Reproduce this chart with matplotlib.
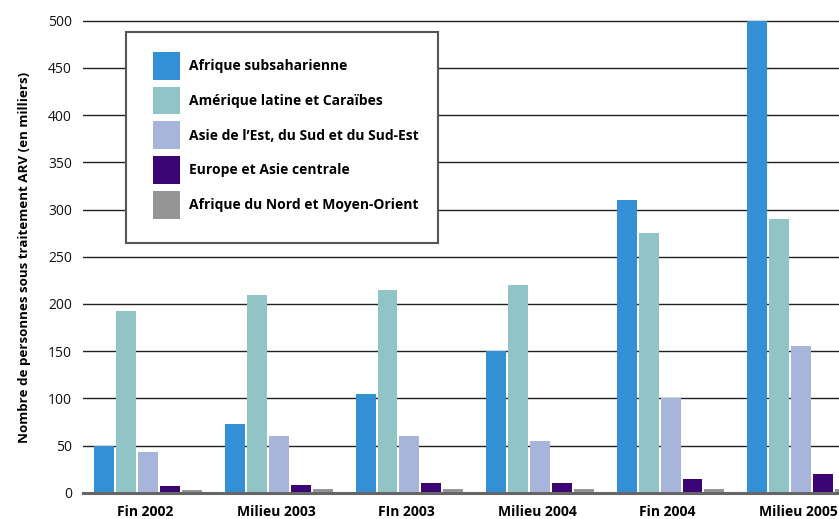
import matplotlib
matplotlib.use("Agg")
import matplotlib.pyplot as plt
import numpy as np
from matplotlib.patches import Rectangle

plt.rcParams['font.family'] = ['Open Sans', 'DejaVu Sans']

periods = ["Fin 2002", "Milieu 2003", "FIn 2003", "Milieu 2004", "Fin 2004", "Milieu 2005"]
regions = ["Afrique subsaharienne",
           "Amérique latine et Caraïbes",
           "Asie de l’Est, du Sud et du Sud-Est",
           "Europe et Asie centrale",
           "Afrique du Nord et Moyen-Orient"]
afrique_sub = [50, 73, 105, 150, 310, 500]
amerique_lat = [192, 209, 215, 220, 275, 290]
asie = [43, 60, 60, 55, 100, 155]
europe_asie_c = [7, 8, 10, 10, 15, 20]
afrique_nord = [3, 4, 4, 4, 4, 4]
series = [afrique_sub, amerique_lat, asie, europe_asie_c, afrique_nord]
colors = ["#3390d4", "#90c4c6", "#a8b5db", "#3b0575", "#959595"]

fig = plt.figure(figsize=(8.39, 5.19), dpi=100)
ax = fig.add_axes([83 / 839, 26.3 / 519, 1 - 83 / 839, 505 * 0.944 / 519])

x = np.arange(len(periods))
step = 0.168
width = 0.153
bars = []
for i, (vals, col, lab) in enumerate(zip(series, colors, regions)):
    b = ax.bar(x + (i - 2) * step, vals, width, color=col, label=lab, zorder=2)
    bars.append(b)

ax.set_xlim(-0.5, 5.29)
ax.set_ylim(0, 505)
ax.set_yticks(np.arange(0, 501, 50))
ax.set_axisbelow(True)
ax.yaxis.grid(True, color="#222222", linewidth=1.0)
ax.axhline(0, color="#666666", linewidth=2.2, zorder=3, clip_on=False)
for s in ax.spines.values():
    s.set_visible(False)
ax.tick_params(axis='y', length=0, pad=8, labelsize=10, labelcolor="#111111")
ax.tick_params(axis='x', length=0, pad=9)
ax.set_xticks(x - 0.022)
ax.set_xticklabels(periods, fontsize=10, fontweight='bold')

fig.text(25 / 839, 1 - 257 / 519, "Nombre de personnes sous traitement ARV (en milliers)",
         rotation=90, ha='center', va='center', fontsize=9.6, fontweight='bold')

# legend box, white so the grid lines stop at its edge
box = Rectangle((126 / 839, 1 - 243 / 519), 312 / 839, 211 / 519,
                transform=fig.transFigure, facecolor='white',
                edgecolor='#555555', linewidth=1.5, zorder=5, clip_on=False)
ax.add_patch(box)
leg = ax.legend(handles=bars, loc='upper left',
                bbox_to_anchor=(153 / 839, 1 - 52 / 519), bbox_transform=fig.transFigure,
                frameon=False, borderpad=0, borderaxespad=0,
                handlelength=1.95, handleheight=2.7, handletextpad=0.65,
                labelspacing=0.5, prop={'size': 10, 'weight': 'bold'})
leg.set_zorder(6)

fig.savefig("out.png", dpi=100)
